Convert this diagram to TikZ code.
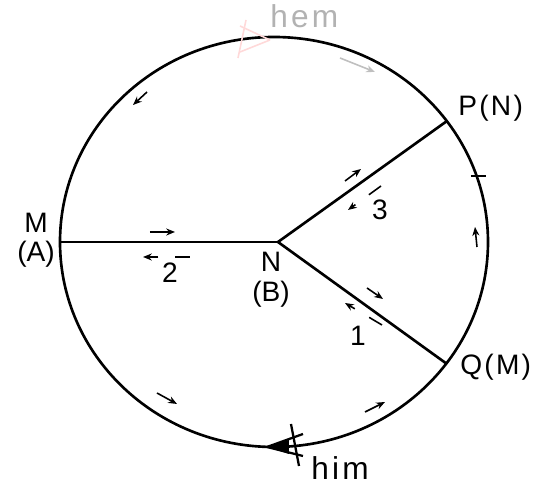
\documentclass[tikz,border=0pt]{standalone}
\usepackage{fontspec}
\setmainfont{Liberation Sans}
\newfontfamily\widefont[LetterSpace=8]{Liberation Sans}
\newfontfamily\widerfont[LetterSpace=10]{Liberation Sans}
\usepackage{tikz}
\usetikzlibrary{arrows.meta,positioning,calc}

\tikzset{
  wire/.style={line width=1.5pt},
  flow/.style={line width=0.9pt,-{Stealth[length=5pt,width=4pt]}},
  backflow/.style={flow,dash pattern=on 8.5pt off 9.5pt},
  lbl/.style={font=\fontsize{16}{18}\selectfont,inner sep=0pt},
  wlbl/.style={font=\fontsize{16}{18}\widefont,inner sep=0pt},
  word/.style={font=\fontsize{18}{20}\widerfont,inner sep=0pt},
}

\begin{document}
\begin{tikzpicture}[x=0.02cm,y=0.02cm]
  \useasboundingbox (-274,-247) rectangle (271,242); % 545x489 の枠

  % 円（写真のためわずかに楕円）
  \draw[wire] (0,0) ellipse [x radius=214,y radius=205];

  \coordinate (M) at (-214,0);
  \coordinate (N) at (4,0);
  \coordinate (P) at (173,121);
  \coordinate (Q) at (173,-122);

  \draw[wire] (N) -- (M); % 枝2
  \draw[wire] (N) -- (P); % 枝3
  \draw[wire] (N) -- (Q); % 枝1

  % 端点のラベル
  \node[lbl] (lM) at (-238,19) {M};
  \node[lbl] (lA) at (-238,-12) {(A)};
  \node[lbl] (lN) at (-3,-20) {N};
  \node[lbl] (lB) at (-3,-52) {(B)};
  \node[wlbl,anchor=west] (lP) at (184,134) {P(N)};
  \node[wlbl,anchor=west] (lQ) at (186,-125) {Q(M)};

  % 枝番号
  \node[lbl] (n2) at (-104,-31) {2};
  \node[lbl] (n3) at (106,32) {3};
  \node[lbl] (n1) at (84,-94) {1};

  % 枝に沿った小さな矢印（実線と破線）
  \draw[flow] (-124,10) -- (-99,10);
  \draw[backflow] (-84,-15) -- (-131,-15);
  \draw[flow] (71,61) -- (87,73);
  \draw[backflow] (107,56) -- (74,32);
  \draw[flow] (93,-46) -- (109,-57);
  \draw[backflow] (108,-83) -- (71,-61);

  % 円周上の小さな矢印（反時計回り）
  \draw[flow] (-127,150) -- (-141,137);
  \draw[flow] (-117,-151) -- (-97,-162);
  \draw[flow] (91,-170) -- (111,-160);
  \draw[flow] (203,-5) -- (201,15);
  \draw[line width=0.9pt] (197,66) -- (212,66); % 目印の短い線
  \draw[flow,gray!50] (66,184) -- (101,170); % 薄い矢印

  % 大きな矢じり（him）
  \coordinate (himtip) at (-7,-205);
  \fill (himtip) -- (15,-198) -- (15,-212) -- cycle;
  \draw[line width=1.3pt] (himtip) -- (29,-192) (himtip) -- (29,-214);
  \draw[line width=1.3pt] (17,-182) -- (25,-224);
  \node[word,anchor=west] (him) at (37,-226) {him};

  % 大きな矢じり（hem）、薄く残っている
  \coordinate (hemtip) at (-4,202);
  \draw[pink!60,line width=0.9pt] (hemtip) -- ++(-30,14) (hemtip) -- ++(-30,-12);
  \draw[pink!60,line width=0.9pt] ($(hemtip)+(-24,20)$) -- ++(-8,-38);
  \node[word,anchor=west,text=gray!60] (hem) at (-4,226) {hem};
\end{tikzpicture}
\end{document}
